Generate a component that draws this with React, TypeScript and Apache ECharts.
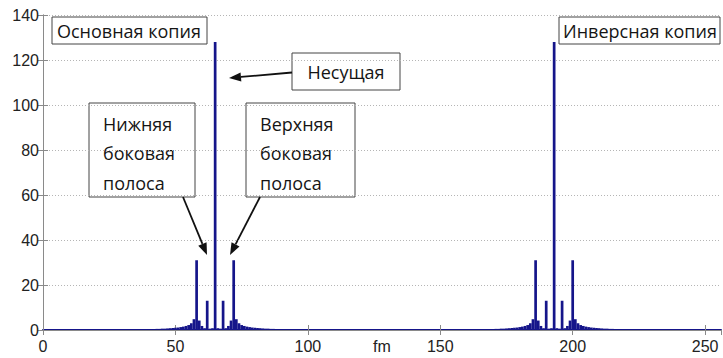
import React, { useEffect, useRef } from "react";
import * as echarts from "echarts";

// Spectrum magnitude |X(k)|, k = 1..256 (values outside the listed ranges are ~0)
const mainStart = 40; // first index of the main copy
const mainCopy = [
  0.3, 0.4, 0.4, 0.5, 0.5, 0.6, 0.6, 0.7, 0.8, 0.9, // 40-49
  1.0, 1.1, 1.3, 1.5, 1.8, 2.2, 3.0, 4.8, 31, 4.2, // 50-59
  1.8, 0.8, 13, 0.6, 0.8, 128, 0.8, 0.6, 13, 0.8, // 60-69
  1.8, 4.2, 31, 4.8, 3.0, 2.2, 1.8, 1.5, 1.3, 1.1, // 70-79
  1.0, 0.9, 0.8, 0.7, 0.6, 0.6, 0.5, 0.5, 0.4, 0.4, // 80-89
  0.3, // 90
];
const inverseStart = 168; // first index of the inverse copy
const inverseCopy = [
  0.3, 0.4, 0.4, 0.5, 0.5, 0.6, 0.6, 0.7, 0.8, 0.9, // 168-177
  1.0, 1.1, 1.3, 1.5, 1.8, 2.2, 3.0, 4.8, 31, 4.2, // 178-187
  1.8, 0.8, 13, 0.6, 0.8, 128, 0.8, 0.6, 13, 0.8, // 188-197
  1.8, 4.2, 31, 4.8, 3.0, 2.2, 1.8, 1.5, 1.3, 1.1, // 198-207
  1.0, 0.9, 0.8, 0.7, 0.6, 0.6, 0.5, 0.5, 0.4, 0.4, // 208-217
  0.3, // 218
];
const sampleCount = 256;
const xTicks = [0, 50, 100, 150, 200, 250];
const yTicks = [0, 20, 40, 60, 80, 100, 120, 140];

const NAVY = "#15158a";
const FRAME = "#8a8a8a";
const ANNOT_FONT = "'Open Sans', 'Noto Sans', sans-serif";
const AXIS_FONT = "'Liberation Sans', Arial, sans-serif";

function buildData(): [number, number][] {
  const out: [number, number][] = [];
  for (let k = 1; k <= sampleCount; k++) {
    let v = 0;
    if (k >= mainStart && k < mainStart + mainCopy.length) v = mainCopy[k - mainStart];
    if (k >= inverseStart && k < inverseStart + inverseCopy.length) v = inverseCopy[k - inverseStart];
    out.push([k, v]);
  }
  return out;
}

function arrow(tail: [number, number], tip: [number, number], len = 12, half = 4.5) {
  const dx = tip[0] - tail[0];
  const dy = tip[1] - tail[1];
  const d = Math.hypot(dx, dy);
  const ux = dx / d, uy = dy / d;
  const bx = tip[0] - ux * len, by = tip[1] - uy * len;
  const px = -uy, py = ux;
  return [
    {
      type: "line",
      shape: { x1: tail[0], y1: tail[1], x2: bx, y2: by },
      style: { stroke: "#111", lineWidth: 1.8 },
      silent: true,
    },
    {
      type: "polygon",
      shape: {
        points: [
          [tip[0], tip[1]],
          [bx + px * half, by + py * half],
          [bx - px * half, by - py * half],
        ],
      },
      style: { fill: "#111" },
      silent: true,
    },
  ];
}

function box(x: number, y: number, w: number, h: number) {
  return {
    type: "rect",
    shape: { x, y, width: w, height: h },
    style: { fill: "#fff", stroke: "#444", lineWidth: 1 },
    silent: true,
  };
}

function label(text: string, x: number, y: number, align = "left", lineHeight = 29.5) {
  return {
    type: "text",
    x,
    y,
    style: {
      text,
      fill: "#151515",
      font: `18px ${ANNOT_FONT}`,
      align,
      verticalAlign: "middle",
      lineHeight,
    },
    silent: true,
  };
}

export default function App() {
  const ref = useRef<HTMLDivElement>(null);
  useEffect(() => {
    if (!ref.current) return;
    const chart = echarts.init(ref.current, undefined, { renderer: "svg" });
    const xAxisBase = {
      type: "value",
      min: 0,
      max: sampleCount,
      interval: xTicks[1] - xTicks[0],
      splitLine: { show: false },
    };
    const yAxisBase = {
      type: "value",
      min: yTicks[0],
      max: yTicks[yTicks.length - 1],
      interval: yTicks[1] - yTicks[0],
    };
    chart.setOption({
      animation: false,
      grid: { left: 43, right: 2, top: 15, bottom: 28 },
      xAxis: [
        {
          ...xAxisBase,
          position: "bottom",
          axisLine: { show: true, onZero: false, lineStyle: { color: NAVY, width: 2 } },
          axisTick: { show: true, inside: true, length: 5, lineStyle: { color: FRAME } },
          axisLabel: { fontSize: 16, color: "#222", fontFamily: AXIS_FONT, margin: 8 },
        },
        {
          ...xAxisBase,
          position: "top",
          axisLine: { show: true, lineStyle: { color: FRAME } },
          axisTick: { show: true, inside: true, length: 5, lineStyle: { color: FRAME } },
          axisLabel: { show: false },
        },
      ],
      yAxis: [
        {
          ...yAxisBase,
          position: "left",
          axisLine: { show: true, lineStyle: { color: FRAME } },
          axisTick: { show: true, inside: true, length: 5, lineStyle: { color: FRAME } },
          axisLabel: { fontSize: 16, color: "#222", fontFamily: AXIS_FONT, margin: 4 },
          splitLine: { show: true, lineStyle: { type: [1, 2], color: "#b5b5b5" } },
        },
        {
          ...yAxisBase,
          position: "right",
          axisLine: { show: true, lineStyle: { color: FRAME } },
          axisTick: { show: true, inside: true, length: 5, lineStyle: { color: FRAME } },
          axisLabel: { show: false },
          splitLine: { show: false },
        },
      ],
      series: [
        {
          type: "bar",
          xAxisIndex: 0,
          yAxisIndex: 0,
          data: buildData(),
          barWidth: 2.7,
          itemStyle: { color: NAVY },
          silent: true,
        },
      ],
      graphic: [
        {
          type: "text",
          x: 382,
          y: 346,
          style: { text: "fm", font: `16px ${AXIS_FONT}`, fill: "#222", align: "center", verticalAlign: "middle" },
          silent: true,
        },
        box(52, 17, 155, 27),
        label("Основная копия", 57, 31),
        box(559, 17, 161, 27),
        label("Инверсная копия", 563, 31),
        box(292, 53, 108, 37),
        label("Несущая", 346, 72, "center"),
        box(89, 103, 106, 94),
        label("Нижняя\nбоковая\nполоса", 103, 153),
        box(246, 103, 109, 94),
        label("Верхняя\nбоковая\nполоса", 260, 153),
        ...arrow([292, 72.5], [229, 78]),
        ...arrow([183, 197], [207, 255]),
        ...arrow([260, 197], [230, 255]),
      ],
    });
    return () => chart.dispose();
  }, []);
  return (
    <div
      ref={ref}
      style={{ position: "fixed", left: 0, top: 0, width: 723, height: 358, background: "#fff" }}
    />
  );
}
